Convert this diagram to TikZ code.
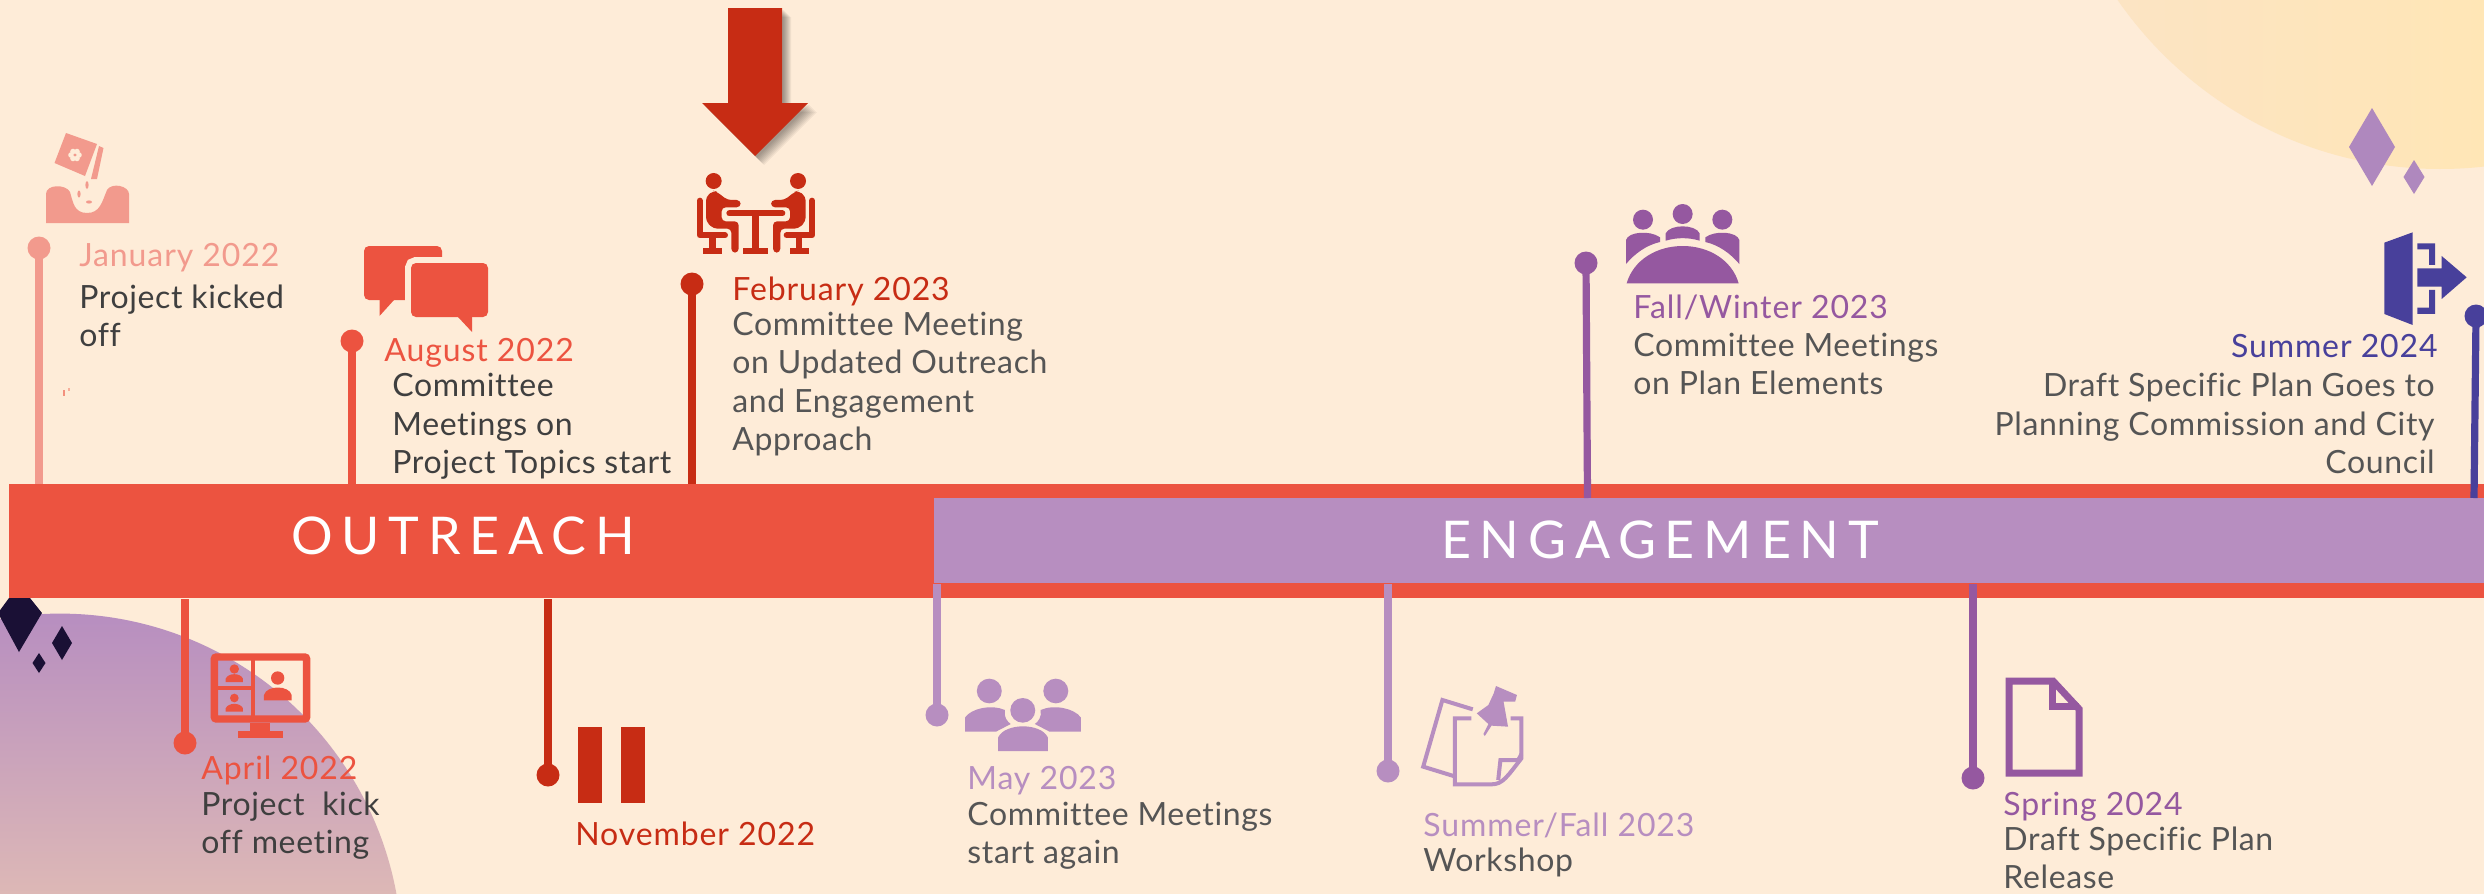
\documentclass[tikz,border=0pt]{standalone}
\usepackage{fontspec}
\setmainfont{Lato}
\newfontfamily\barfont[LetterSpace=17,RawFeature={-liga}]{Lato}
\newfontfamily\bodyfont[LetterSpace=2,RawFeature={-liga}]{Lato}
\newfontfamily\datefont[LetterSpace=2.8,RawFeature={-liga}]{Lato}
\usetikzlibrary{calc}
\definecolor{bgc}{HTML}{FEECD8}
\definecolor{janc}{HTML}{F29A8D}
\definecolor{redc}{HTML}{EC5340}
\definecolor{deepc}{HTML}{C72C14}
\definecolor{lilac}{HTML}{B78EC0}
\definecolor{plum}{HTML}{9558A0}
\definecolor{indigo}{HTML}{48409B}
\definecolor{inkA}{HTML}{3F3F3F}
\definecolor{inkB}{HTML}{555555}
\definecolor{navy}{HTML}{1A1035}
\definecolor{spark}{HTML}{AF88BE}
\definecolor{sunL}{HTML}{FBE3C6}
\definecolor{sunR}{HTML}{FFE6B6}
\definecolor{circB}{HTML}{DDB8B6}
\tikzset{
  x=0.5pt,y=-0.5pt,
  dot/.style={circle,fill=#1,draw=none,inner sep=0pt,minimum size=11.5pt},
  stem/.style={draw=#1,line width=3.6pt},
  datetext/.style={anchor=base west,inner sep=0pt,yshift=-0.5pt,text=#1,font=\fontsize{16}{19.2}\selectfont\datefont},
  bodytext/.style={anchor=base west,inner sep=0pt,yshift=-0.7pt,align=left,text=#1,font=\fontsize{16}{19.2}\selectfont\bodyfont},
  bartext/.style={inner sep=0pt,text=white,font=\fontsize{26}{30}\selectfont\barfont},
  barbox/.style={anchor=north west,inner sep=0pt,draw=none,fill=#1},
}
\begin{document}
\begin{tikzpicture}
\useasboundingbox (0,0) rectangle (2484,894);
\clip (0,0) rectangle (2484,894);
\fill[bgc] (0,0) rectangle (2484,894);
% sun
\begin{scope}
\clip (2440,-223) circle[radius=392];
\shade[left color=sunL,right color=sunR] (2040,0) rectangle (2484,180);
\end{scope}
% lower left circle
\begin{scope}
\clip (60,955.6) circle[radius=342];
\shade[top color=lilac,bottom color=circB] (0,613) rectangle (420,894);
\end{scope}
% sparkles
\fill[navy] (9,598)--(30,598)--(42,613)--(19,652)--(-2,613)--cycle;
\fill[navy] (62,626)--(72,643)--(62,660)--(52,643)--cycle;
\fill[navy] (39,653)--(45.5,663)--(39,673)--(32.5,663)--cycle;
\fill[spark] (2372,108)--(2395,147)--(2372,186)--(2349,147)--cycle;
\fill[spark] (2414,160)--(2424.5,177)--(2414,194)--(2403.5,177)--cycle;
% seed speck
\fill[redc!60!bgc] (63,390) rectangle (65,396);
\fill[redc!40!bgc] (68,388) rectangle (70,391);

% bars
\node[barbox=redc,minimum width=1237.5pt,minimum height=57pt] (redbar) at (9,484) {};
\node[barbox=lilac,minimum width=775pt,minimum height=42.5pt] (engbar) at (934,498) {};
\node[bartext] (outreachlabel) at (463,536) {OUTREACH};
\node[bartext] (engagelabel) at (1660,540) {ENGAGEMENT};

% milestones above
\node[dot=janc] (djan) at (39,248) {};
\draw[stem=janc] (djan.center) -- (djan.center |- redbar.north);
\node[datetext=janc] (tjan) at (79,265) {January 2022};
\node[bodytext=inkA] (bjan) at (79,345) {Project kicked\\off};

\node[dot=redc] (daug) at (352,341) {};
\draw[stem=redc] (daug.center) -- (daug.center |- redbar.north);
\node[datetext=redc] (taug) at (384,360) {August 2022};
\node[bodytext=inkA] (baug) at (392,472) {Committee\\Meetings on\\Project Topics start};

\node[dot=deepc] (dfeb) at (692,284) {};
\draw[stem=deepc] (dfeb.center) -- (dfeb.center |- redbar.north);
\node[datetext=deepc] (tfeb) at (732,299) {February 2023};
\node[bodytext=inkB] (bfeb) at (732,449) {Committee Meeting\\on Updated Outreach\\and Engagement\\Approach};

\node[dot=plum] (dfall) at (1586,263) {};
\coordinate (efall) at (1587.5,498);
\draw[stem=plum] (dfall.center) -- (efall);
\node[datetext=plum] (tfall) at (1633,317) {Fall/Winter 2023};
\node[bodytext=inkB] (bfall) at (1633,393) {Committee Meetings\\on Plan Elements};

\node[dot=indigo] (dsum) at (2476,316) {};
\coordinate (esum) at (2474,498);
\draw[stem=indigo] (dsum.center) -- (esum);
\node[datetext=indigo,anchor=base east] (tsum) at (2438,356) {Summer 2024};
\node[bodytext=inkB,anchor=base east,align=right] (bsum) at (2435,472) {Draft Specific Plan Goes to\\Planning Commission and City\\Council};

% milestones below
\node[dot=redc] (dapr) at (185,743) {};
\draw[stem=redc] (dapr.center) -- (dapr.center |- redbar.south);
\node[datetext=redc] (tapr) at (201,778) {April 2022};
\node[bodytext=inkA] (bapr) at (201,852) {Project\ \ kick\\off meeting};

\node[dot=deepc] (dnov) at (548,775) {};
\draw[stem=deepc] (dnov.center) -- (dnov.center |- redbar.south);
\node[datetext=deepc] (tnov) at (575,844) {November 2022};

\node[dot=lilac] (dmay) at (937,715) {};
\draw[stem=lilac] (dmay.center) -- (dmay.center |- engbar.south);
\node[datetext=lilac] (tmay) at (967,788) {May 2023};
\node[bodytext=inkB] (bmay) at (967,862) {Committee Meetings\\start again};

\node[dot=lilac] (dsf) at (1388,771) {};
\draw[stem=lilac] (dsf.center) -- (dsf.center |- engbar.south);
\node[datetext=lilac] (tsf) at (1423,835) {Summer/Fall 2023};
\node[bodytext=inkB] (bsf) at (1423,870) {Workshop};

\node[dot=plum] (dspr) at (1973,778) {};
\draw[stem=plum] (dspr.center) -- (dspr.center |- engbar.south);
\node[datetext=plum] (tspr) at (2003,814) {Spring 2024};
\node[bodytext=inkB] (bspr) at (2003,887) {Draft Specific Plan\\Release};

% big arrow with shadow
\foreach \o in {2,3,...,9}
  \fill[black,opacity=0.05,shift={(\o,\o)}] (728,8)--(782,8)--(782,103)--(808,103)--(755,156)--(702,103)--(728,103)--cycle;
\fill[deepc] (728,8)--(782,8)--(782,103)--(808,103)--(755,156)--(702,103)--(728,103)--cycle;

% pause
\fill[deepc] (578,727) rectangle (602,803);
\fill[deepc] (621,727) rectangle (645,803);

% seed icon
\fill[janc] (66,133)--(97,144)--(85,176)--(54.5,163)--cycle;
\foreach \a in {0,60,...,300}
  \fill[bgc] (75,155) ++(\a:4) circle[radius=2.8];
\fill[janc] (75,155) circle[radius=1.2];
\fill[janc] (99,146)--(103.5,148)--(97,179)--(91,179)--cycle;
\fill[janc] (46,223)--(129,223)--(129,194) .. controls (129,186) and (112,182) .. (107,190)
  .. controls (102,202) and (100,213) .. (87,213) .. controls (74,213) and (73,202) .. (70,192)
  .. controls (66,184) and (46,184) .. (46,194)--cycle;
\fill[janc] (87,185) ellipse[x radius=1.6,y radius=4];
\fill[janc] (79,194) ellipse[x radius=1.6,y radius=3.5];
\fill[janc] (89,202) ellipse[x radius=3,y radius=1.6];

% chat icon
\fill[redc,rounded corners=2.5pt] (364,246) rectangle (442,300);
\fill[redc] (370,290)--(394,300)--(379.5,316)--(379.5,295)--cycle;
\draw[bgc,line width=6pt,rounded corners=2.5pt] (411,263) rectangle (488,317);
\fill[redc,rounded corners=2.5pt] (411,263) rectangle (488,317);
\fill[redc] (458,310)--(472,310)--(472,332)--(458,317)--cycle;

% meeting icon
\foreach \sc/\sh in {1/650,-1/861.67}{
\begin{scope}[shift={(\sh,0)},xscale=\sc/3,yscale=1/3]
\fill[deepc] (191,543) circle[radius=24];
\fill[deepc,rounded corners=2pt] (168,590) -- (190,572) -- (200,575) -- (232,600) -- (272,600) -- (272,622) -- (215,622) -- (215,664) -- (266,664) -- (266,758) -- (244,758) -- (244,686) -- (190,686) -- (168,664) -- cycle;
\draw[deepc,line width=3pt,line cap=round,line join=round] (149,602) -- (149,706) -- (225,706);
\fill[deepc] (178,712) rectangle (197,745);
\fill[deepc] (158,745) rectangle (215,762);
\end{scope}}
\begin{scope}[shift={(650,0)},xscale=1/3,yscale=1/3]
\draw[deepc,line width=3pt,line cap=round] (238,640) -- (397,640);
\fill[deepc] (307,640) rectangle (327,745);
\fill[deepc] (280,745) rectangle (355,762);
\end{scope}

% video icon
\begin{scope}[shift={(0,580)},xscale=1/3,yscale=1/3]
\draw[redc,line width=3.67pt,rounded corners=1pt] (643,231) rectangle (920,417);
\draw[redc,line width=2pt] (760,231) -- (760,417);
\draw[redc,line width=2pt] (654,323) -- (760,323);
\fill[redc] (750,428) rectangle (810,452);
\fill[redc] (714,452) rectangle (849,473);
\fill[redc] (833,294) circle[radius=20];
\fill[redc] (792,361) -- (792,345) .. controls (800,315) and (867,315) .. (875,345) -- (875,361) -- cycle;
\fill[redc] (703,267) circle[radius=14];
\fill[redc] (677,306) -- (677,296) .. controls (685,278) and (721,278) .. (729,296) -- (729,306) -- cycle;
\fill[redc] (703,354) circle[radius=13];
\fill[redc] (677,395) -- (677,385) .. controls (685,367) and (721,367) .. (729,385) -- (729,395) -- cycle;
\end{scope}

% people icon
\begin{scope}[shift={(900,580)},xscale=1/2.24,yscale=1/3]
\fill[lilac] (200,333) ellipse[x radius=28,y radius=37];
\fill[lilac] (349,333) ellipse[x radius=28,y radius=37];
\fill[lilac] (275,391) ellipse[x radius=28,y radius=37];
\fill[lilac] (146,455) -- (146,412) .. controls (160,385) and (205,372) .. (235,390) .. controls (232,410) and (240,425) .. (248,432) -- (215,455) -- cycle;
\fill[lilac] (405,455) -- (405,412) .. controls (390,385) and (345,372) .. (315,390) .. controls (318,410) and (310,425) .. (302,432) -- (335,455) -- cycle;
\fill[lilac] (220,513) -- (220,472) .. controls (235,428) and (316,428) .. (331,472) -- (331,513) -- cycle;
\end{scope}

% notes icon
\begin{scope}[shift={(900,580)},xscale=1/2.24,yscale=1/3]
\draw[lilac,line width=2pt] (1283,388) -- (1215,360) -- (1172,560) -- (1240,588);
\draw[lilac,line width=2pt] (1280,415) -- (1243,415) -- (1243,613) -- (1325,613) .. controls (1350,613) and (1360,590) .. (1392,535) -- (1392,415) -- (1368,415);
\draw[lilac,line width=2pt] (1392,522) -- (1385,540) -- (1345,540) -- (1340,600);
\fill[lilac] (1335,318) -- (1382,345) -- (1378,365) -- (1352,365) -- (1362,440) -- (1325,437) -- (1310,468) -- (1307,462) -- (1318,432) -- (1292,400) -- (1318,375) -- (1330,340) -- cycle;
\end{scope}

% document icon
\draw[plum,line width=3.5pt,line join=miter] (2009,681) -- (2053,681) -- (2079,709) -- (2079,773) -- (2009,773) -- cycle;
\draw[plum,line width=3.5pt] (2052,681) -- (2052,706.5) -- (2079,706.5);

% round table icon
\begin{scope}[shift={(1550,180)},xscale=1/3,yscale=1/3]
\fill[plum] (279,119) circle[radius=30];
\fill[plum] (398,102) circle[radius=30];
\fill[plum] (517,119) circle[radius=30];
\fill[plum] (230,310) .. controls (250,240) and (320,198) .. (398,198) .. controls (476,198) and (546,240) .. (566,310) -- cycle;
\fill[plum] (228,252) -- (228,180) .. controls (235,155) and (300,150) .. (330,172) -- (330,186) .. controls (290,195) and (255,220) .. (228,252) -- cycle;
\fill[plum] (568,252) -- (568,180) .. controls (561,155) and (496,150) .. (466,172) -- (466,186) .. controls (506,195) and (541,220) .. (568,252) -- cycle;
\fill[plum] (347,182) -- (347,160) .. controls (360,132) and (436,132) .. (449,160) -- (449,182) .. controls (415,172) and (381,172) .. (347,182) -- cycle;
\end{scope}

% exit icon
\begin{scope}[shift={(2000,0)},xscale=1/3,yscale=1/3]
\fill[indigo] (1153,728) -- (1238,697) -- (1238,975) -- (1153,942) -- cycle;
\fill[indigo] (1252,730) -- (1305,730) -- (1305,795) -- (1287,795) -- (1287,748) -- (1252,748) -- cycle;
\fill[indigo] (1252,942) -- (1305,942) -- (1305,870) -- (1287,870) -- (1287,923) -- (1252,923) -- cycle;
\fill[indigo] (1252,805) -- (1325,805) -- (1325,768) -- (1400,832) -- (1325,897) -- (1325,860) -- (1252,860) -- cycle;
\end{scope}
\end{tikzpicture}
\end{document}
